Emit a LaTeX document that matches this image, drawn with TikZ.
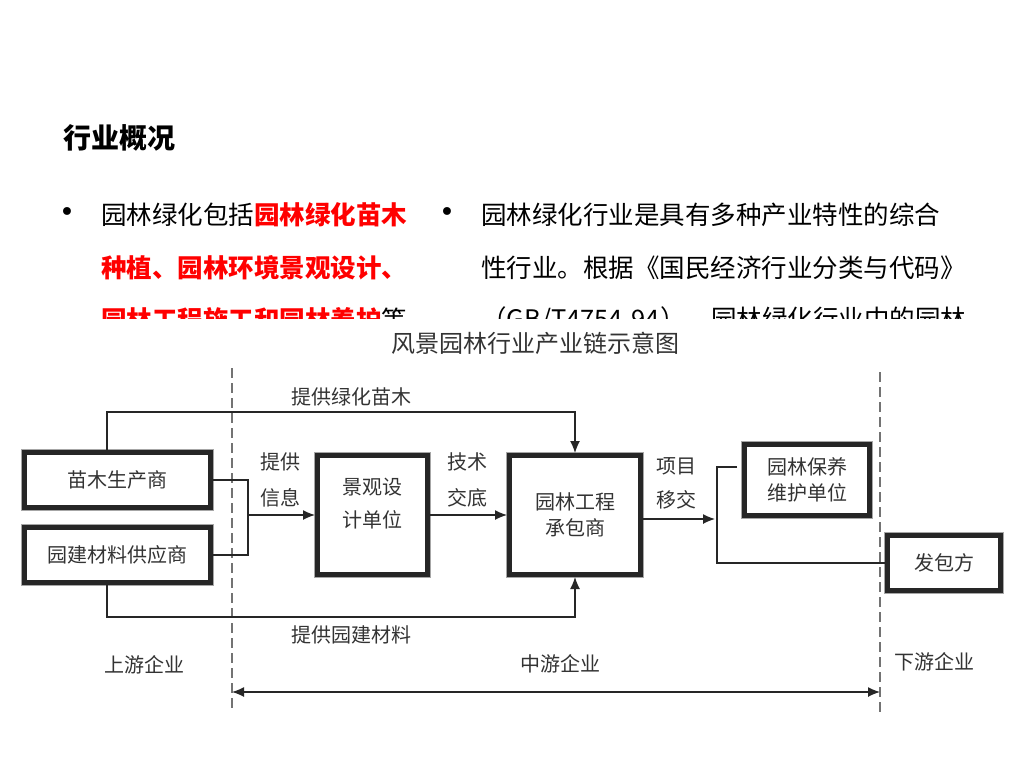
\documentclass[tikz,border=0pt]{standalone}
\usepackage{fontspec}
\setmainfont{Noto Sans CJK SC}
\newfontfamily\dotfont{DejaVu Sans}
\usepackage{tikz}
\usetikzlibrary{calc,positioning,arrows.meta}
\definecolor{colorkey}{HTML}{FF0000}
\definecolor{colordia}{HTML}{333333}
\tikzset{
  unit/.style={draw=black!85, line width=5pt, fill=white, inner sep=0pt,
    align=center, text=colordia, font=\fontsize{20}{26}\selectfont,
    preaction={draw=black!35, line width=7pt}},
  word/.style={draw=none, inner sep=0pt, align=center, text=colordia,
    font=\fontsize{20}{36}\selectfont},
  para/.style={draw=none, inner sep=0pt, anchor=west,
    font=\fontsize{25.5}{30}\selectfont},
  edgeflow/.style={black!85, line width=1.3pt, -{Latex[length=12pt,width=10pt]}},
  edgeplain/.style={black!85, line width=1.3pt},
  edgespan/.style={black!85, line width=1.3pt,
    {Latex[length=12pt,width=10pt]}-{Latex[length=12pt,width=10pt]}},
  divider/.style={black!55, line width=1.5pt, dash pattern=on 10pt off 5pt}
}
\newcommand\bulletmark{{\dotfont\fontsize{27}{27}\selectfont •}}
\newcommand\keytext[1]{\textcolor{colorkey}{\bfseries #1}}

\begin{document}
\begin{tikzpicture}[x=1pt, y=-1pt]
\useasboundingbox (0,0) rectangle (1024,768);

% slide text
\node[para, font=\fontsize{28}{32}\selectfont\bfseries] (title) at (63,138) {行业概况};

\node[draw=none, inner sep=0pt] (dotleft) at (67,215) {\bulletmark};
\node[para] (lineA) at (101,215) {园林绿化包括\keytext{园林绿化苗木}};
\node[para] (lineB) at (101,268) {\keytext{种植、园林环境景观设计、}};
\node[para] (lineC) at (101,320) {\keytext{园林工程施工和园林养护}等};

\node[draw=none, inner sep=0pt] (dotright) at (447,215) {\bulletmark};
\node[para] (lineD) at (481,215) {园林绿化行业是具有多种产业特性的综合};
\node[para] (lineE) at (481,268) {性行业。根据《国民经济行业分类与代码》};
\node[para] (lineF) at (481,320) {（GB/T4754-94），园林绿化行业中的园林};

% the chart sits over the third line
\fill[white] (0,319) rectangle (1024,768);

\node[word, font=\fontsize{24}{28}\selectfont] (heading) at (535,343)
{风景园林行业产业链示意图};

\draw[divider] (232,368) -- (232,712);
\draw[divider] (880,372) -- (880,712);

\node[unit, minimum width=186pt, minimum height=55pt] (grower) at (117.5,480)
{苗木生产商};
\node[unit, minimum width=186pt, minimum height=55pt] (supplier) at (117.5,555)
{园建材料供应商};
\node[unit, minimum width=110pt, minimum height=119pt] (designer) at (372.5,515) {};
\node[word, font=\fontsize{20}{33}\selectfont] (designtext) at (372.5,503.5)
{景观设\\计单位};
\node[unit, minimum width=131pt, minimum height=119pt] (builder) at (575,515)
{园林工程\\承包商};
\node[unit, minimum width=125pt, minimum height=71pt] (keeper) at (807,480)
{园林保养\\维护单位};
\node[unit, minimum width=113pt, minimum height=55pt] (client) at (944,563)
{发包方};

\coordinate (seedway) at (107,412);
\coordinate (stuffway) at (107,617);
\coordinate (join) at (248,515);
\coordinate (hand) at (715,519);
\coordinate (fork) at (717,467);
\coordinate (midL) at (232,692);
\coordinate (midR) at (880,692);

\draw[edgeflow] (grower.north -| seedway) -- (seedway) -| (builder.north);
\draw[edgeflow] (supplier.south -| stuffway) -- (stuffway) -| (builder.south);

\draw[edgeplain] (grower.east) -| (join) |- (supplier.east);
\draw[edgeflow] (join) -- (designer.west);

\draw[edgeflow] (designer) -- (builder);

\draw[edgeflow] (builder.east |- hand) -- (hand);
\draw[edgeplain, shorten <=5pt] (keeper.west |- fork) -- (fork) |- (client.west);

\draw[edgespan] (midL) -- (midR);

\node[word] (greenlabel) at (351,397) {提供绿化苗木};
\node[word] (stufflabel) at (351,635) {提供园建材料};
\node[word] (infolabel) at (280,480) {提供\\信息};
\node[word] (techlabel) at (467,480) {技术\\交底};
\node[word, font=\fontsize{20}{34}\selectfont] (handlabel) at (676,483) {项目\\移交};

\node[word] (uplabel) at (144,665) {上游企业};
\node[word] (midlabel) at (560,664) {中游企业};
\node[word] (downlabel) at (934,662) {下游企业};
\end{tikzpicture}
\end{document}
